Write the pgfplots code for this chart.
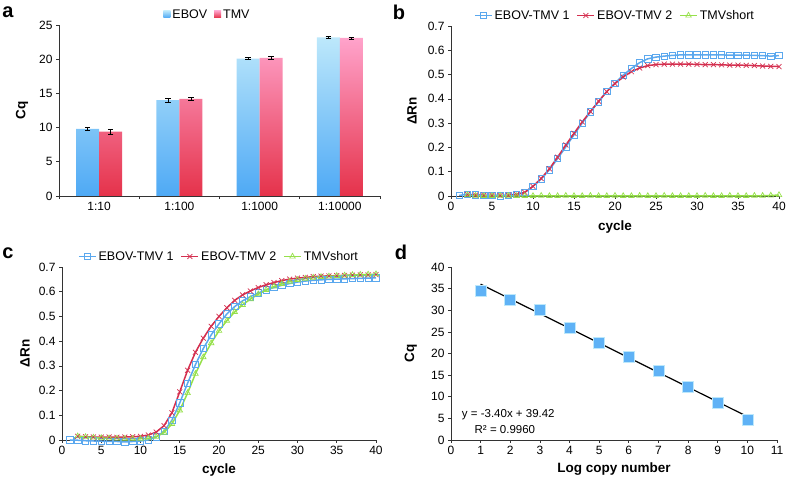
\documentclass[border=0pt]{standalone}
\usepackage{fontspec}
\setmainfont{Liberation Sans}
\usepackage{pgfplots}
\pgfplotsset{compat=1.18}
\definecolor{blueln}{HTML}{5BA8EE}
\definecolor{redln}{HTML}{D42F4F}
\definecolor{greenln}{HTML}{96E04A}
\definecolor{ebovtop}{HTML}{BDE8FB}
\definecolor{ebovbot}{HTML}{4EA9F5}
\definecolor{tmvtop}{HTML}{FFA3CB}
\definecolor{tmvbot}{HTML}{E5324A}
\pgfplotsset{
  panel/.style={
    scale only axis, anchor=south west,
    axis lines=left, axis line style={-, black!80, line width=0.8pt},
    tick align=outside, major tick length=3pt,
    tick style={black!80, line width=0.7pt},
    tick label style={font=\fontsize{12}{14}\selectfont},
    /pgf/number format/assume math mode=true,
    label style={font=\bfseries\fontsize{13.5}{15}\selectfont},
    ylabel style={anchor=center, rotate=0},
    enlargelimits=false, clip=false,
    legend style={draw=none, fill=none, font=\fontsize{12.5}{14}\selectfont,
      legend columns=-1, /tikz/every even column/.append style={column sep=5pt},
      inner sep=1pt},
  },
  curve/.style={line width=1.5pt, mark size=3.2pt, mark options={solid, line width=0.7pt}},
}
\begin{document}
\begin{tikzpicture}[x=1pt,y=1pt]
\useasboundingbox (0,0) rectangle (787,478);

% ---- a
\begin{axis}[panel, at={(59pt,282pt)}, width=321pt, height=171pt,
  ybar, ymin=0, ymax=25, ytick={0,5,...,25},
  xmin=-0.5, xmax=3.5, xtick={-0.5,0.5,1.5,2.5,3.5},
  x tick label as interval, xticklabels={1:10,1:100,1:1000,1:10000},
  ylabel={Cq}, ylabel style={at={(axis description cs:-0.115,0.5)}},
  legend style={at={(0.5,1)}, anchor=south, xshift=-12pt, yshift=2pt},
  legend image code/.code={\path[#1, draw=none] (0pt,-3pt) rectangle (7pt,4pt);},
  error bars/error bar style={black, line width=0.7pt},
  error bars/error mark options={black, rotate=90, mark size=2.8pt, line width=0.7pt},
]
\addplot[ybar, bar width=23pt, bar shift=-11.5pt, draw=none, top color=ebovtop, bottom color=ebovbot,
  error bars/.cd, y dir=both, y explicit] coordinates {
  (0,9.8) +- (0,0.2) (1,14.0) +- (0,0.3) (2,20.1) +- (0,0.1) (3,23.2) +- (0,0.1)};
\addplot[ybar, bar width=23pt, bar shift=11.5pt, draw=none, top color=tmvtop, bottom color=tmvbot,
  error bars/.cd, y dir=both, y explicit] coordinates {
  (0,9.4) +- (0,0.4) (1,14.2) +- (0,0.2) (2,20.2) +- (0,0.25) (3,23.1) +- (0,0.15)};
\legend{EBOV,TMV}
\end{axis}

% ---- b
\begin{axis}[panel, at={(451pt,282pt)}, width=328pt, height=170pt,
  xmin=0, xmax=40, xtick={0,5,...,40}, ymin=0, ymax=0.7, ytick={0,0.1,...,0.7},
  yticklabel style={/pgf/number format/fixed},
  xlabel={cycle}, xlabel style={at={(axis description cs:0.5,-0.18)}, anchor=center},
  ylabel={ΔRn}, ylabel style={at={(axis description cs:-0.119,0.5)}},
  legend style={at={(0.5,1)}, anchor=south, yshift=2pt},
]
\addplot[curve, color=blueln, mark=square] coordinates {
(1,0.002)(2,0.008)(3,0.004)(4,0.003)(5,0.003)(6,0.001)(7,0.003)(8,0.008)(9,0.015)(10,0.040)
(11,0.070)(12,0.108)(13,0.154)(14,0.202)(15,0.252)(16,0.300)(17,0.346)(18,0.388)(19,0.430)(20,0.465)
(21,0.498)(22,0.525)(23,0.549)(24,0.565)(25,0.572)(26,0.576)(27,0.579)(28,0.581)(29,0.581)(30,0.581)
(31,0.581)(32,0.581)(33,0.581)(34,0.580)(35,0.580)(36,0.580)(37,0.579)(38,0.578)(39,0.576)(40,0.578)};
\addplot[curve, color=redln, mark=x, mark size=3.5pt] coordinates {
(2,0.006)(3,0.004)(4,0.003)(5,0.003)(6,0.002)(7,0.003)(8,0.006)(9,0.015)(10,0.040)
(11,0.072)(12,0.112)(13,0.160)(14,0.210)(15,0.258)(16,0.305)(17,0.348)(18,0.390)(19,0.430)(20,0.463)
(21,0.490)(22,0.512)(23,0.527)(24,0.537)(25,0.541)(26,0.543)(27,0.543)(28,0.543)(29,0.543)(30,0.542)
(31,0.541)(32,0.541)(33,0.540)(34,0.539)(35,0.539)(36,0.538)(37,0.537)(38,0.535)(39,0.534)(40,0.533)};
\addplot[curve, color=greenln, mark=triangle] coordinates {
(2,0.004)(3,0.001)(4,0.000)(5,0.000)(6,0.001)(7,0.001)(8,0.000)(9,0.000)(10,0.000)
(11,0.001)(12,0.000)(13,0.000)(14,0.001)(15,0.000)(16,0.000)(17,0.001)(18,0.000)(19,0.000)(20,0.001)
(21,0.000)(22,0.000)(23,0.001)(24,0.000)(25,0.000)(26,0.001)(27,0.000)(28,0.000)(29,0.000)(30,0.000)
(31,0.001)(32,0.000)(33,0.000)(34,0.001)(35,0.000)(36,0.000)(37,0.001)(38,0.001)(39,0.002)(40,0.004)};
\legend{EBOV-TMV 1,EBOV-TMV 2,TMVshort}
\end{axis}

% ---- c
\begin{axis}[panel, at={(62pt,38pt)}, width=314pt, height=173pt,
  xmin=0, xmax=40, xtick={0,5,...,40}, ymin=0, ymax=0.7, ytick={0,0.1,...,0.7},
  yticklabel style={/pgf/number format/fixed},
  xlabel={cycle}, xlabel style={at={(axis description cs:0.5,-0.173)}, anchor=center},
  ylabel={ΔRn}, ylabel style={at={(axis description cs:-0.118,0.5)}},
  legend style={at={(0.5,1)}, anchor=south, yshift=2pt},
]
\addplot[curve, color=blueln, mark=square] coordinates {
(1,0.000)(2,-0.001)(3,-0.003)(4,-0.004)(5,-0.005)(6,-0.006)(7,-0.006)(8,-0.008)(9,-0.006)(10,-0.004)
(11,0.000)(12,0.012)(13,0.035)(14,0.080)(15,0.150)(16,0.230)(17,0.305)(18,0.370)(19,0.425)(20,0.470)
(21,0.510)(22,0.540)(23,0.563)(24,0.580)(25,0.595)(26,0.607)(27,0.617)(28,0.626)(29,0.633)(30,0.639)
(31,0.643)(32,0.646)(33,0.648)(34,0.650)(35,0.651)(36,0.652)(37,0.653)(38,0.654)(39,0.655)(40,0.656)};
\addplot[curve, color=redln, mark=x, mark size=3.5pt] coordinates {
(2,0.015)(3,0.013)(4,0.012)(5,0.012)(6,0.012)(7,0.011)(8,0.012)(9,0.013)(10,0.015)
(11,0.020)(12,0.032)(13,0.058)(14,0.110)(15,0.195)(16,0.282)(17,0.355)(18,0.412)(19,0.460)(20,0.500)
(21,0.535)(22,0.565)(23,0.587)(24,0.603)(25,0.617)(26,0.628)(27,0.637)(28,0.645)(29,0.651)(30,0.655)
(31,0.658)(32,0.661)(33,0.663)(34,0.664)(35,0.665)(36,0.666)(37,0.667)(38,0.668)(39,0.668)(40,0.669)};
\addplot[curve, color=greenln, mark=triangle] coordinates {
(2,0.015)(3,0.012)(4,0.010)(5,0.008)(6,0.007)(7,0.006)(8,0.005)(9,0.005)(10,0.005)
(11,0.007)(12,0.013)(13,0.030)(14,0.065)(15,0.120)(16,0.190)(17,0.268)(18,0.335)(19,0.392)(20,0.442)
(21,0.483)(22,0.518)(23,0.547)(24,0.570)(25,0.590)(26,0.607)(27,0.621)(28,0.632)(29,0.641)(30,0.648)
(31,0.653)(32,0.657)(33,0.660)(34,0.662)(35,0.664)(36,0.666)(37,0.668)(38,0.669)(39,0.670)(40,0.671)};
\legend{EBOV-TMV 1,EBOV-TMV 2,TMVshort}
\end{axis}

% ---- d
\begin{axis}[panel, at={(451pt,38pt)}, width=326pt, height=173pt,
  xmin=0, xmax=11, xtick={0,1,...,11}, ymin=0, ymax=40, ytick={0,5,...,40},
  xlabel={Log copy number}, xlabel style={at={(axis description cs:0.5,-0.168)}, anchor=center},
  ylabel={Cq}, ylabel style={at={(axis description cs:-0.123,0.5)}},
]
\addplot[only marks, mark=square*, mark size=5.5pt,
  mark options={draw=ebovtop, fill=ebovbot!85!ebovtop, line width=0.6pt}] coordinates {
(1,34.5)(2,32.5)(3,30.0)(4,26.0)(5,22.5)(6,19.2)(7,16.0)(8,12.3)(9,8.5)(10,4.6)};
\addplot[black, line width=1.2pt] coordinates {(1,36.02)(10,5.42)};
\node[anchor=west, font=\fontsize{11.5}{13}\selectfont] at (axis cs:0.25,5.9) {y = -3.40x + 39.42};
\node[anchor=west, font=\fontsize{11.5}{13}\selectfont] at (axis cs:0.68,2.5) {R² = 0.9960};
\end{axis}

\node[font=\bfseries\fontsize{20}{20}\selectfont] at (8,466) {a};
\node[font=\bfseries\fontsize{20}{20}\selectfont] at (399,466) {b};
\node[font=\bfseries\fontsize{20}{20}\selectfont] at (8,225) {c};
\node[font=\bfseries\fontsize{20}{20}\selectfont] at (401,226) {d};
\end{tikzpicture}
\end{document}
